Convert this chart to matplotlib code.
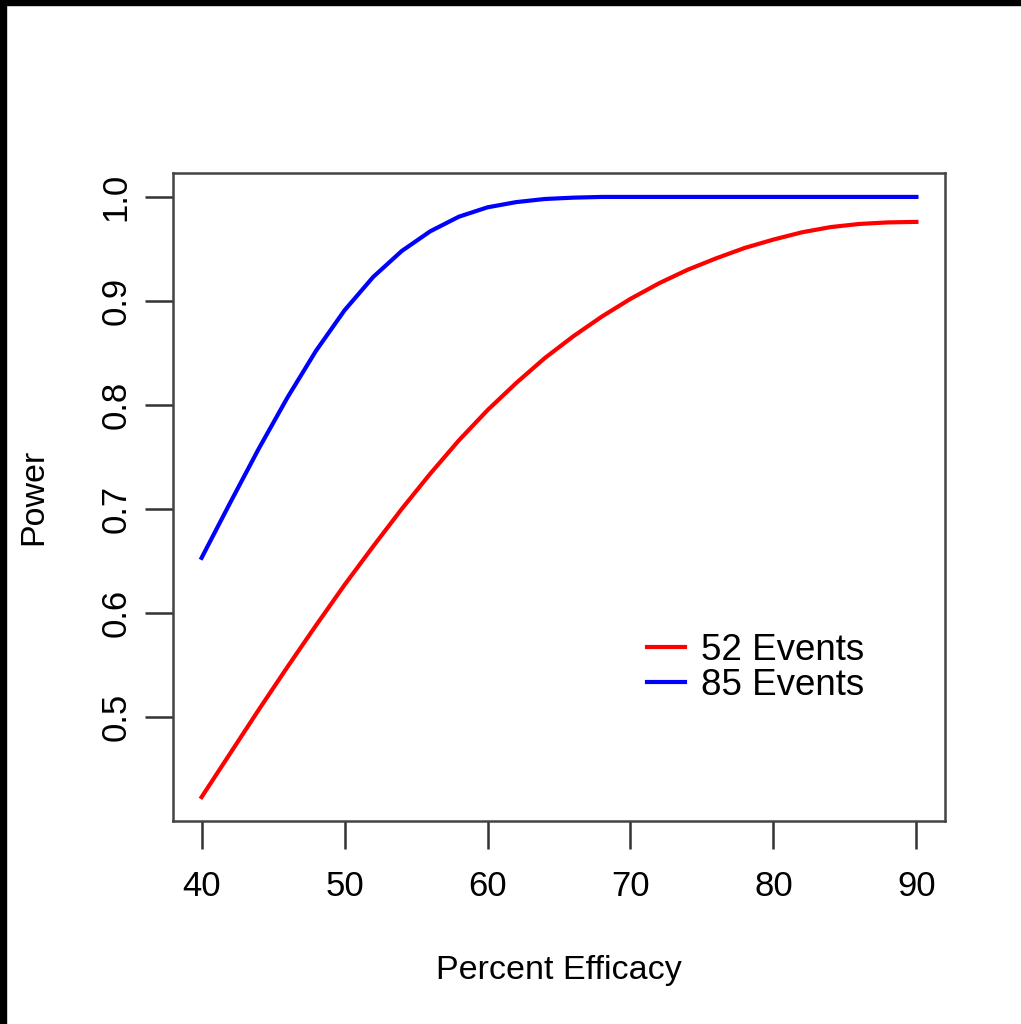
import matplotlib
matplotlib.use('Agg')
import matplotlib.pyplot as plt
from matplotlib.patches import Rectangle

plt.rcParams['font.family'] = ['Liberation Sans', 'DejaVu Sans']

# values
efficacy = [40, 42, 44, 46, 48, 50, 52, 54, 56, 58, 60, 62, 64, 66, 68,
            70, 72, 74, 76, 78, 80, 82, 84, 86, 88, 90]
power_52 = [0.423, 0.465, 0.507, 0.548, 0.588, 0.627, 0.664, 0.700, 0.734, 0.766,
            0.795, 0.821, 0.845, 0.866, 0.885, 0.902, 0.917, 0.930, 0.941, 0.951,
            0.959, 0.966, 0.971, 0.974, 0.9755, 0.976]
power_85 = [0.653, 0.706, 0.758, 0.807, 0.852, 0.891, 0.923, 0.948, 0.967, 0.981,
            0.990, 0.995, 0.998, 0.9993, 1.0, 1.0, 1.0, 1.0, 1.0, 1.0,
            1.0, 1.0, 1.0, 1.0, 1.0, 1.0]
labels = ['52 Events', '85 Events']
xticks = [40, 50, 60, 70, 80, 90]
yticks = [0.5, 0.6, 0.7, 0.8, 0.9, 1.0]

W, H = 1021, 1024
fig = plt.figure(figsize=(W / 100, H / 100), dpi=100)
ax = fig.add_axes([173 / W, 1 - 821 / H, (945 - 173) / W, (821 - 173) / H])

ax.plot(efficacy, power_52, color='#ff0000', lw=3.0, label=labels[0])
ax.plot(efficacy, power_85, color='#0000ff', lw=3.0, label=labels[1])

ax.set_xlim(38, 92)
ax.set_ylim(0.4, 1.023)
ax.set_xticks(xticks)
ax.set_yticks(yticks)
ax.set_yticklabels([f'{v:.1f}' for v in yticks], rotation=90, va='center')
ax.tick_params(axis='both', length=20, width=1.8, color='#333333', labelsize=25, pad=9)
ax.tick_params(axis='x', pad=15)
for s in ax.spines.values():
    s.set_linewidth(1.8)
    s.set_color('#444444')

ax.set_xlabel('Percent Efficacy', fontsize=24.5, labelpad=38)
ax.set_ylabel('Power', fontsize=24.5, labelpad=36)

ax.legend(loc='center left', bbox_to_anchor=(647 / W, 1 - 668 / H),
          bbox_transform=fig.transFigure, frameon=False, fontsize=26.5,
          handlelength=1.03, handletextpad=0.45, labelspacing=0.0,
          borderpad=0, borderaxespad=0)

# black edges from the screenshot
fig.patches.append(Rectangle((0, 1 - 5 / H), 1, 5 / H, color='black',
                             transform=fig.transFigure, zorder=10))
fig.patches.append(Rectangle((0, 0), 6 / W, 1, color='black',
                             transform=fig.transFigure, zorder=10))

fig.savefig('out.png', dpi=100)
